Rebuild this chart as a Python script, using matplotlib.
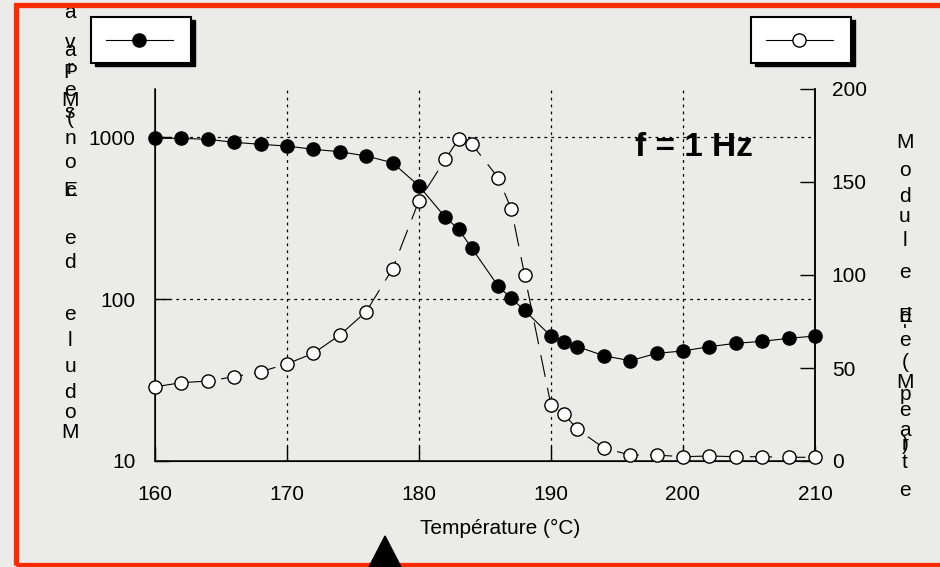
import matplotlib
matplotlib.use('Agg')
import matplotlib.pyplot as plt
from matplotlib.patches import Rectangle, Polygon
from matplotlib.lines import Line2D
import matplotlib.ticker as mticker

plt.rcParams['font.family'] = ['Liberation Sans', 'DejaVu Sans']
plt.rcParams['lines.scale_dashes'] = False

# Module de conservation E' (MPa), axe gauche (log)
temp_e1 = [160, 162, 164, 166, 168, 170, 172, 174, 176, 178, 180, 182, 183, 184,
           186, 187, 188, 190, 191, 192, 194, 196, 198, 200, 202, 204, 206, 208, 210]
e1 = [982, 982, 968, 928, 902, 880, 840, 812, 764, 694, 499, 319, 270, 206,
      120, 101, 85, 59, 54.5, 50.8, 44.7, 41.6, 46.2, 47.8, 50.8, 53.3, 54.8, 57.2, 59.1]

# Module de perte E'' (MPa), axe droit (lineaire)
temp_e2 = [160, 162, 164, 166, 168, 170, 172, 174, 176, 178, 180, 182, 183, 184,
           186, 187, 188, 190, 191, 192, 194, 196, 198, 200, 202, 204, 206, 208, 210]
e2 = [39.9, 42.1, 43.0, 45.3, 48.0, 52.2, 57.9, 67.7, 80.3, 103.4, 140, 162.2, 173.1, 170.4,
      152.3, 135.3, 100, 29.9, 25.1, 17.0, 7.0, 3.2, 3.2, 2.3, 2.7, 2.3, 2.3, 2.0, 2.0]

W, H = 940, 567
fig = plt.figure(figsize=(9.4, 5.67), dpi=100)
fig.patch.set_facecolor('#ebebe9')

def fx(x):
    return x / W

def fy(y):
    return 1 - y / H

ax = fig.add_axes([fx(155), fy(461), fx(815) - fx(155), fy(89) - fy(461)])
ax.set_facecolor('none')
ax.set_yscale('log')
ax.set_xlim(160, 210)
ax.set_ylim(10, 1980)
ax.set_xticks([160, 170, 180, 190, 200, 210])
ax.set_yticks([10, 100, 1000])
ax.yaxis.set_major_formatter(mticker.FormatStrFormatter('%d'))
ax.yaxis.set_minor_locator(mticker.NullLocator())
ax.tick_params(axis='both', direction='in', length=11, width=1, labelsize=15, colors='black')
ax.tick_params(axis='y', pad=14)
ax.tick_params(axis='x', pad=17)
for v in [170, 180, 190, 200]:
    ax.axvline(v, color='black', lw=0.9, ls=(0, (2, 3)), zorder=0)
for v in [100, 1000]:
    ax.axhline(v, color='black', lw=0.9, ls=(0, (2, 3)), zorder=0)
ax.spines['top'].set_visible(False)
for s in ['left', 'bottom', 'right']:
    ax.spines[s].set_linewidth(1.1)

ax.plot(temp_e1, e1, color='black', lw=0.8, marker='o', markersize=9.5,
        markerfacecolor='black', markeredgecolor='black', clip_on=False, zorder=3)

ax2 = ax.twinx()
ax2.set_ylim(0, 200)
ax2.set_yticks([0, 50, 100, 150, 200])
ax2.tick_params(axis='y', direction='in', length=11, width=1, labelsize=15, pad=12)
ax2.spines['top'].set_visible(False)
ax2.spines['right'].set_linewidth(1.1)
ax2.plot(temp_e2, e2, color='black', lw=0.8, dashes=(16, 8), marker='o', markersize=9.5,
         markerfacecolor='white', markeredgecolor='black', markeredgewidth=1.0,
         clip_on=False, zorder=3)

fig.text(fx(500), fy(528), 'Température (°C)', fontsize=15, ha='center', va='center')
fig.text(fx(694), fy(148), 'f = 1 Hz', fontsize=24, fontweight='bold',
         ha='center', va='center')

# titres d'axes verticaux (lettres empilees, comme l'original)
left_chars = [('M', 433), ('o', 413), ('d', 392), ('u', 367), ('l', 340), ('e', 315),
              ('d', 263), ('e', 238), ('c', 190), ('E', 190), ('o', 163), ('n', 138),
              ('s', 112), ('(', 118), ('e', 90), ('M', 100), ('P', 72), ('r', 68),
              ('a', 50), ('v', 42), ('a', 13)]
for ch, y in left_chars:
    fig.text(fx(70), fy(y), ch, fontsize=15, ha='center', va='center')

right_chars = [('M', 143), ('o', 170), ('d', 197), ('u', 217), ('l', 240), ('e', 273),
               ('d', 317), ('E', 317), ("'", 333), ('e', 340), ('(', 362), ('M', 382),
               ('p', 395), ('e', 410), ('a', 430), ('r', 445), (')', 445), ('t', 463),
               ('e', 490)]
for ch, y in right_chars:
    fig.text(fx(905), fy(y), ch, fontsize=15, ha='center', va='center')

# cadres de legende
for x0, filled in [(91, True), (751, False)]:
    fig.patches.append(Rectangle((fx(x0 + 4), fy(66)), fx(100), fy(17) - fy(63),
                                 transform=fig.transFigure, facecolor='black',
                                 edgecolor='black', zorder=1))
    fig.patches.append(Rectangle((fx(x0), fy(63)), fx(100), fy(17) - fy(63),
                                 transform=fig.transFigure, facecolor='white',
                                 edgecolor='black', lw=1.5, zorder=2))
    fig.lines.append(Line2D([fx(x0 + 15), fx(x0 + 82)], [fy(40), fy(40)],
                            transform=fig.transFigure, color='black', lw=0.8,
                            marker=None, zorder=3))
    fig.lines.append(Line2D([fx(x0 + 48)], [fy(40)], transform=fig.transFigure,
                            marker='o', markersize=9.5, color='black',
                            markerfacecolor='black' if filled else 'white',
                            markeredgewidth=1.0, zorder=4))

# cadre rouge et triangle
fig.patches.append(Rectangle((fx(16), fy(565)), fx(960), fy(5) - fy(565),
                             transform=fig.transFigure, facecolor='none',
                             edgecolor='#ff2a00', lw=3.8, zorder=5))
fig.patches.append(Polygon([(fx(369), fy(567)), (fx(385), fy(536)), (fx(401), fy(567))],
                           closed=True, transform=fig.transFigure, facecolor='black',
                           edgecolor='black', zorder=6))

fig.savefig('out.png', dpi=100, facecolor=fig.get_facecolor())
